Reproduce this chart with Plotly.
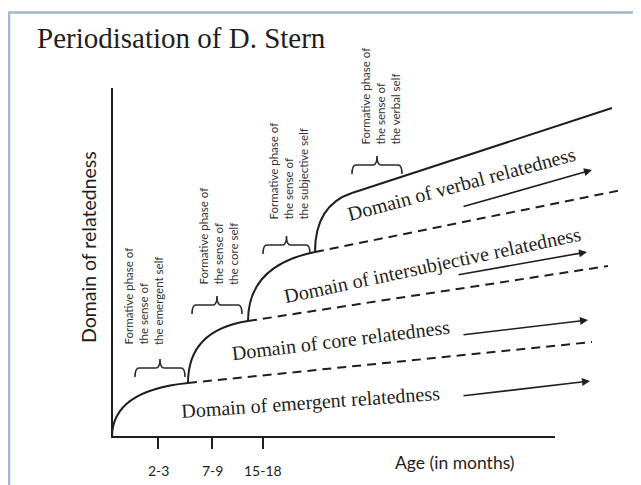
import plotly.graph_objects as go

# ---------------- data (age units / relatedness units) ----------------
stage_x = [0, 76, 136, 203, 240]          # onset points of each domain
stage_y = [0, 54, 116, 185, 244]
bound_end_x = [480, 496, 510, 500]        # far end of each domain boundary
bound_end_y = [95, 171, 247, 329]
bound_dash = ["9px,6px", "9px,6px", "9px,6px", "solid"]

age_ticks = [46, 100, 151]
age_labels = ["2-3", "7-9", "15-18"]

domain_labels = ["Domain of emergent relatedness", "Domain of core relatedness",
                 "Domain of intersubjective relatedness", "Domain of verbal relatedness"]
domain_x = [198, 229, 320, 349]
domain_y = [35, 97, 172, 253]
domain_angle = [-4, -7, -12, -15]

arrow_x0 = [350, 350, 345, 350]
arrow_y0 = [41, 102, 162, 230]
arrow_x1 = [478, 476, 475, 480]
arrow_y1 = [56, 117, 185, 267]

phase_selves = ["the emergent self", "the core self", "the subjective self", "the verbal self"]
phase_text_x = [31, 106, 176, 268]
phase_text_base = [90, 150, 215, 290]
bracket_left = [23, 80, 151, 240]
bracket_right = [73, 130, 198, 290]
bracket_y = [69, 132, 192, 272]

x_axis_end = 443
y_axis_end = 349

frame_x = [-103, -103, 529]
frame_y = [-48, 424.5, 424.5]

INK = "#1e1e1e"
SERIF = "Liberation Serif, Times New Roman, serif"
SANS = "Lato, Carlito, Liberation Sans, sans-serif"

fig = go.Figure()
shapes = []
annotations = []

# frame border of the slide
fig.add_trace(go.Scatter(x=frame_x, y=frame_y, mode="lines",
                         line=dict(color="#a3b6cc", width=2.5), hoverinfo="skip",
                         cliponaxis=False))

# axes
fig.add_trace(go.Scatter(x=[0, 0, x_axis_end], y=[y_axis_end, 0, 0], mode="lines",
                         line=dict(color=INK, width=2), hoverinfo="skip"))
for t in age_ticks:
    fig.add_trace(go.Scatter(x=[t, t], y=[0, -12], mode="lines",
                             line=dict(color=INK, width=2), hoverinfo="skip"))

# developmental curves (quadratic Bezier: vertical start, tangent to next boundary)
for i in range(4):
    x0, y0 = stage_x[i], stage_y[i]
    x1, y1 = stage_x[i + 1], stage_y[i + 1]
    slope = (bound_end_y[i] - y1) / (bound_end_x[i] - x1)
    cy = y1 - slope * (x1 - x0)
    shapes.append(dict(type="path", xref="x", yref="y",
                       path=f"M {x0},{y0} Q {x0},{cy} {x1},{y1}",
                       line=dict(color=INK, width=2)))

# domain boundaries
for i in range(4):
    fig.add_trace(go.Scatter(x=[stage_x[i + 1], bound_end_x[i]],
                             y=[stage_y[i + 1], bound_end_y[i]], mode="lines",
                             line=dict(color=INK, width=2, dash=bound_dash[i]),
                             hoverinfo="skip"))

# brackets
for i in range(4):
    L, R, y = bracket_left[i], bracket_right[i], bracket_y[i]
    m = (L + R) / 2
    h, r = 9, 4
    path = (f"M {L},{y - h} Q {L},{y} {L + r},{y} L {m - r},{y} "
            f"Q {m},{y} {m},{y + h} Q {m},{y} {m + r},{y} L {R - r},{y} "
            f"Q {R},{y} {R},{y - h}")
    shapes.append(dict(type="path", xref="x", yref="y", path=path,
                       line=dict(color="#2a2a2a", width=1.6)))

# phase texts (rotated)
for i in range(4):
    lines = ["Formative phase of", "the sense of", phase_selves[i]]
    for k, txt in enumerate(lines):
        annotations.append(dict(x=phase_text_x[i] + (k - 1) * 15, y=phase_text_base[i],
                                xref="x", yref="y", text=txt, showarrow=False,
                                textangle=-90, xanchor="center", yanchor="bottom",
                                font=dict(family=SANS, size=11.5, color="#333333")))

# domain labels
for i in range(4):
    annotations.append(dict(x=domain_x[i], y=domain_y[i], xref="x", yref="y",
                            text=domain_labels[i], showarrow=False,
                            textangle=domain_angle[i],
                            font=dict(family=SERIF, size=20, color=INK)))
    annotations.append(dict(x=arrow_x1[i], y=arrow_y1[i], ax=arrow_x0[i], ay=arrow_y0[i],
                            xref="x", yref="y", axref="x", ayref="y", text="",
                            showarrow=True, arrowhead=2, arrowsize=1, arrowwidth=1.6,
                            arrowcolor=INK))

# tick labels
for t, lab in zip(age_ticks, age_labels):
    annotations.append(dict(x=t, y=-33, xref="x", yref="y", text=lab, showarrow=False,
                            font=dict(family=SANS, size=14, color=INK)))

annotations.append(dict(x=343, y=-25, xref="x", yref="y", text="Age (in months)",
                        showarrow=False, font=dict(family=SANS, size=17.5, color=INK)))
annotations.append(dict(x=-24, y=190, xref="x", yref="y", text="Domain of relatedness",
                        showarrow=False, textangle=-90,
                        font=dict(family=SANS, size=19.5, color=INK)))
annotations.append(dict(x=-77, y=399, xref="x", yref="y", text="Periodisation of D. Stern",
                        showarrow=False, xanchor="left", yanchor="middle",
                        font=dict(family=SERIF, size=29, color=INK)))

# page body keeps an 8px margin, so the figure is sized to fit the window
fig.update_layout(
    width=633, height=477,
    margin=dict(l=0, r=0, t=0, b=0),
    paper_bgcolor="white", plot_bgcolor="white",
    showlegend=False, hovermode=False,
    xaxis=dict(range=[-104, 529], visible=False, fixedrange=True),
    yaxis=dict(range=[-48, 429], visible=False, fixedrange=True),
    shapes=shapes, annotations=annotations,
)

fig.write_html("out.html", config={"displayModeBar": False})
